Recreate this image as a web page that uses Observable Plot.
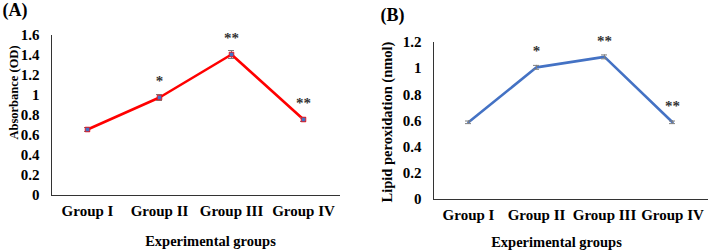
<!DOCTYPE html>
<html>
<head>
<meta charset="utf-8">
<script src="https://cdn.jsdelivr.net/npm/d3@7"></script>
<script src="https://cdn.jsdelivr.net/npm/@observablehq/plot@0.6"></script>
<style>
  html, body { margin: 0; padding: 0; background: #fff; }
  #wrap { position: relative; width: 708px; height: 252px; overflow: hidden; }
  #wrap > div { position: absolute; top: 0; }
  #a { left: 0; } #b { left: 354px; }
</style>
</head>
<body>
<div id="wrap"><div id="a"></div><div id="b"></div></div>
<script>
const groups = ["Group I", "Group II", "Group III", "Group IV"];
const absorbance = [0.66, 0.98, 1.41, 0.76];
const absorbanceErr = [0.02, 0.03, 0.04, 0.02];
const lipid = [0.59, 1.01, 1.09, 0.59];
const lipidErr = [0.01, 0.015, 0.015, 0.01];
const stars = ["", "*", "**", "**"];
const yTicksA = [0, 0.2, 0.4, 0.6, 0.8, 1, 1.2, 1.4, 1.6];
const yTicksB = [0, 0.2, 0.4, 0.6, 0.8, 1, 1.2];

function panel(cfg) {
  const data = groups.map((g, i) => ({g, v: cfg.values[i], e: cfg.errors[i], s: stars[i]}));
  const marks = [
    Plot.frame({anchor: "left", stroke: "#333", strokeWidth: 1}),
    Plot.frame({anchor: "bottom", stroke: "#333", strokeWidth: 1}),
    Plot.axisY({ticks: cfg.ticks, tickSize: 0, tickPadding: 12, tickFormat: d => String(d), label: null, fontSize: 15}),
    Plot.axisX({tickSize: 0, tickPadding: 10, label: null, fontSize: 15}),
    Plot.line(data, {x: "g", y: "v", stroke: cfg.color, strokeWidth: 2.6}),
    Plot.ruleX(data, {x: "g", y1: d => d.v - d.e, y2: d => d.v + d.e, stroke: "#7f7f7f", strokeWidth: 1}),
    Plot.tickY(data, {x: "g", y: d => d.v - d.e, stroke: "#7f7f7f", strokeWidth: 1, insetLeft: cfg.cap, insetRight: cfg.cap}),
    Plot.tickY(data, {x: "g", y: d => d.v + d.e, stroke: "#7f7f7f", strokeWidth: 1, insetLeft: cfg.cap, insetRight: cfg.cap}),
  ];
  if (cfg.marker) marks.push(Plot.dot(data, {x: "g", y: "v", symbol: "square", r: 2.6, fill: "#4472C4", stroke: cfg.color, strokeWidth: 0.8}));
  marks.push(
    Plot.text(data, {x: "g", y: "v", text: "s", dy: -16, fontSize: 15, fill: "#333", letterSpacing: "2px"}),
    Plot.text([cfg.title], {frameAnchor: "top-left", textAnchor: "start", lineAnchor: "middle", dx: cfg.titleDx, dy: cfg.titleDy, fontSize: 18, fill: "#000"}),
    Plot.text([cfg.ylabel], {frameAnchor: "left", textAnchor: "middle", lineAnchor: "middle", rotate: -90, dx: cfg.ylDx, dy: cfg.ylDy, fontSize: cfg.ylSize, fill: "#000"}),
    Plot.text(["Experimental groups"], {frameAnchor: "bottom", lineAnchor: "middle", dx: cfg.xlDx, dy: cfg.xlDy, fontSize: 14.5, fill: "#000"})
  );
  return Plot.plot({
    width: 354, height: 252,
    marginLeft: cfg.ml, marginRight: cfg.mr, marginTop: cfg.mt, marginBottom: cfg.mb,
    style: {fontFamily: "'Liberation Serif', 'Times New Roman', serif", fontWeight: "bold", color: "#000", background: "#fff", overflow: "visible"},
    x: {type: "band", domain: groups, padding: 0},
    y: {domain: [0, cfg.ticks[cfg.ticks.length - 1]]},
    marks
  });
}

document.getElementById("a").appendChild(panel({
  values: absorbance, errors: absorbanceErr, ticks: yTicksA, color: "#FF0000", marker: true, cap: 33,
  ml: 51, mr: 15, mt: 35, mb: 57,
  title: "(A)", titleDx: -49, titleDy: -25,
  ylabel: "Absorbance (OD)", ylDx: -38, ylDy: -23, ylSize: 12.5,
  xlDx: 15, xlDy: 46
}));
document.getElementById("b").appendChild(panel({
  values: lipid, errors: lipidErr, ticks: yTicksB, color: "#4472C4", marker: false, cap: 31,
  ml: 79, mr: 1, mt: 42, mb: 53,
  title: "(B)", titleDx: -53, titleDy: -27,
  ylabel: "Lipid peroxidation (nmol)", ylDx: -46, ylDy: 1, ylSize: 14.5,
  xlDx: -14, xlDy: 43
}));
</script>
</body>
</html>
